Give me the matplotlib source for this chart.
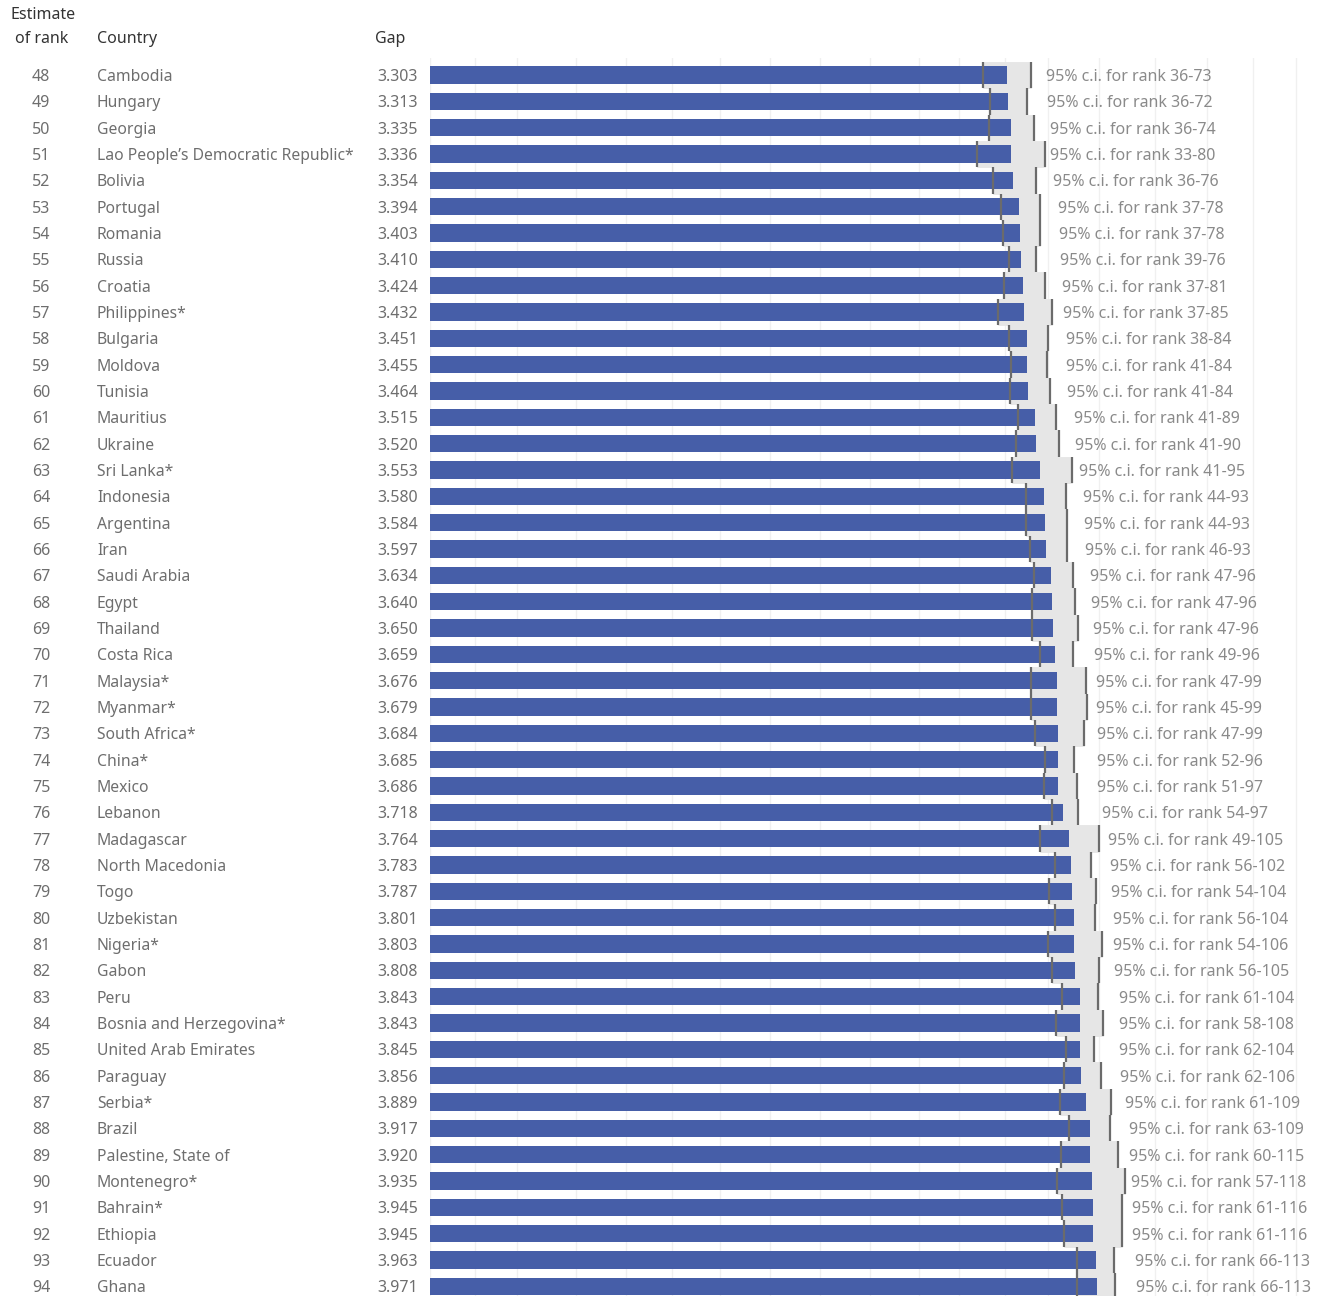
import numpy as np
import matplotlib.pyplot as plt
from matplotlib import transforms

plt.rcParams['font.family'] = ['Noto Sans', 'DejaVu Sans']

# rank estimates, countries and gap scores
ranks = [48, 49, 50, 51, 52, 53, 54, 55, 56, 57, 58, 59, 60, 61, 62, 63,
         64, 65, 66, 67, 68, 69, 70, 71, 72, 73, 74, 75, 76, 77, 78, 79,
         80, 81, 82, 83, 84, 85, 86, 87, 88, 89, 90, 91, 92, 93, 94]
countries = ['Cambodia', 'Hungary', 'Georgia', 'Lao People\u2019s Democratic Republic*',
             'Bolivia', 'Portugal', 'Romania', 'Russia', 'Croatia', 'Philippines*',
             'Bulgaria', 'Moldova', 'Tunisia', 'Mauritius', 'Ukraine', 'Sri Lanka*',
             'Indonesia', 'Argentina', 'Iran', 'Saudi Arabia', 'Egypt', 'Thailand',
             'Costa Rica', 'Malaysia*', 'Myanmar*', 'South Africa*', 'China*', 'Mexico',
             'Lebanon', 'Madagascar', 'North Macedonia', 'Togo', 'Uzbekistan', 'Nigeria*',
             'Gabon', 'Peru', 'Bosnia and Herzegovina*', 'United Arab Emirates',
             'Paraguay', 'Serbia*', 'Brazil', 'Palestine, State of', 'Montenegro*',
             'Bahrain*', 'Ethiopia', 'Ecuador', 'Ghana']
gaps = [3.303, 3.313, 3.335, 3.336, 3.354, 3.394, 3.403, 3.410, 3.424, 3.432,
        3.451, 3.455, 3.464, 3.515, 3.520, 3.553, 3.580, 3.584, 3.597, 3.634,
        3.640, 3.650, 3.659, 3.676, 3.679, 3.684, 3.685, 3.686, 3.718, 3.764,
        3.783, 3.787, 3.801, 3.803, 3.808, 3.843, 3.843, 3.845, 3.856, 3.889,
        3.917, 3.920, 3.935, 3.945, 3.945, 3.963, 3.971]

# 95% interval of the gap score
gap_lo = [3.130, 3.179, 3.170, 3.081, 3.199, 3.259, 3.276, 3.318, 3.285, 3.239,
          3.318, 3.335, 3.327, 3.387, 3.374, 3.344, 3.444, 3.444, 3.473, 3.503,
          3.490, 3.490, 3.549, 3.481, 3.481, 3.510, 3.589, 3.579, 3.638, 3.549,
          3.658, 3.616, 3.658, 3.609, 3.638, 3.714, 3.668, 3.744, 3.727, 3.695,
          3.762, 3.705, 3.675, 3.714, 3.725, 3.821, 3.821]
gap_hi = [3.481, 3.451, 3.503, 3.586, 3.522, 3.549, 3.549, 3.522, 3.589, 3.636,
          3.609, 3.599, 3.626, 3.668, 3.692, 3.784, 3.742, 3.751, 3.751, 3.793,
          3.813, 3.830, 3.793, 3.890, 3.897, 3.873, 3.801, 3.821, 3.833, 3.988,
          3.929, 3.966, 3.958, 4.008, 3.986, 3.976, 4.018, 3.947, 4.001, 4.075,
          4.067, 4.126, 4.180, 4.156, 4.156, 4.095, 4.102]

# 95% interval of the rank
rank_lo = [36, 36, 36, 33, 36, 37, 37, 39, 37, 37, 38, 41, 41, 41, 41, 41, 44, 44,
           46, 47, 47, 47, 49, 47, 45, 47, 52, 51, 54, 49, 56, 54, 56, 54, 56, 61,
           58, 62, 62, 61, 63, 60, 57, 61, 61, 66, 66]
rank_hi = [73, 72, 74, 80, 76, 78, 78, 76, 81, 85, 84, 84, 84, 89, 90, 95, 93, 93,
           93, 96, 96, 96, 96, 99, 99, 99, 96, 97, 97, 105, 102, 104, 104, 106, 105,
           104, 108, 104, 106, 109, 109, 115, 118, 116, 116, 113, 113]

grid_x = [-0.963, -0.630, -0.320, 0.117, 0.487, 0.827, 1.182, 1.552, 1.922, 2.292,
          2.654, 2.954, 3.290, 3.608, 3.985, 4.400, 4.784, 5.125, 5.443]

BLUE = '#465ea8'
BAND = '#e6e6e6'
TICK = '#6b6b6b'
W, H = 1322, 1296

gaps = np.array(gaps)
gap_lo = np.array(gap_lo)
gap_hi = np.array(gap_hi)
y = np.arange(len(gaps))

fig = plt.figure(figsize=(W / 100, H / 100), dpi=100)
ax = fig.add_axes([430 / W, 0, (W - 430) / W, (H - 58) / H])
x0, x1 = -0.963, 5.637
ax.set_xlim(x0, x1)
ax.set_ylim(46.37, -0.646)

# interval band, bars and interval ends
ax.barh(y, gap_hi - gap_lo, left=gap_lo, height=1.0, color=BAND,
        edgecolor=BAND, linewidth=0.6, zorder=1)
ax.barh(y, gaps - x0, left=x0, height=0.66, color=BLUE, linewidth=0, zorder=2)
ax.vlines(gap_lo, y - 0.5, y + 0.5, color=TICK, lw=1.6, zorder=3)
ax.vlines(gap_hi, y - 0.5, y + 0.5, color=TICK, lw=1.6, zorder=3)

# nudge row text down a couple of pixels so it sits on the bar centre
down = transforms.offset_copy(ax.transData, fig=fig, x=0, y=-2, units='dots')
for i, g in enumerate(gaps):
    ax.text(g + 0.289, i, f'95% c.i. for rank {rank_lo[i]}-{rank_hi[i]}',
            transform=down, ha='left', va='center', fontsize=11.5,
            color='#8a8a8a', zorder=4)

ax.set_xticks(grid_x)
ax.grid(axis='x', color='#f0f0f0', lw=1)
ax.set_axisbelow(True)
ax.tick_params(length=0, labelbottom=False, labelleft=False)
for s in ax.spines.values():
    s.set_visible(False)

# left-hand table columns, aligned to rows
tr = transforms.blended_transform_factory(fig.transFigure, ax.transData)
tr = transforms.offset_copy(tr, fig=fig, x=0, y=-2, units='dots')
for i in range(len(gaps)):
    ax.text(41 / W, i, str(ranks[i]), transform=tr, ha='center', va='center',
            fontsize=11.5, color='#6e6e6e', clip_on=False)
    ax.text(97 / W, i, countries[i], transform=tr, ha='left', va='center',
            fontsize=11.3, color='#6e6e6e', clip_on=False)
    ax.text(418 / W, i, f'{gaps[i]:.3f}', transform=tr, ha='right', va='center',
            fontsize=11.5, color='#6e6e6e', clip_on=False)

# column headers
hdr = dict(fontsize=11.5, color='#333333', va='center')
fig.text(43 / W, 1 - 15 / H, 'Estimate', ha='center', **hdr)
fig.text(42 / W, 1 - 39 / H, 'of rank', ha='center', **hdr)
fig.text(97 / W, 1 - 39 / H, 'Country', ha='left', **hdr)
fig.text(375 / W, 1 - 39 / H, 'Gap', ha='left', **hdr)

fig.savefig('out.png', dpi=100)
